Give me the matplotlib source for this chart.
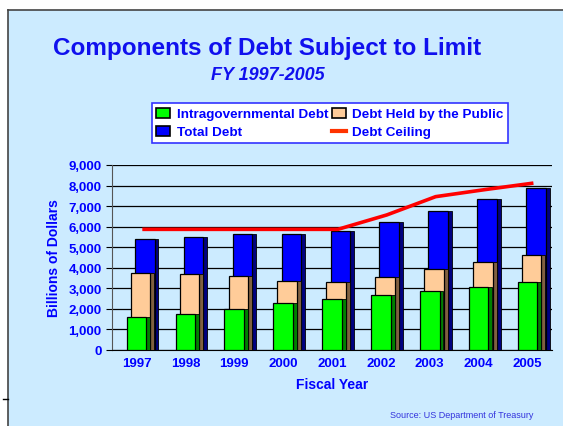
import numpy as np
import matplotlib.pyplot as plt
from matplotlib.patches import Rectangle
from matplotlib.lines import Line2D

years = ['1997', '1998', '1999', '2000', '2001', '2002', '2003', '2004', '2005']
intragov = [1600, 1760, 2010, 2270, 2460, 2690, 2850, 3070, 3330]
public = [2170, 1960, 1610, 1110, 860, 870, 1080, 1220, 1270]
total = [5390, 5500, 5650, 5650, 5790, 6210, 6760, 7360, 7900]
ceiling = [5870, 5870, 5870, 5870, 5870, 6570, 7460, 7800, 8120]

bg = '#CCEBFF'
txt = '#0000FF'
plt.rcParams['font.family'] = ['Liberation Sans', 'DejaVu Sans']

fig = plt.figure(figsize=(5.63, 4.27), dpi=100)
fig.patch.set_facecolor('white')
# slide panel
fig.add_artist(Rectangle((8/563, 0), 1, 1 - 11/427, transform=fig.transFigure,
                         facecolor=bg, edgecolor='none', zorder=0))
fig.add_artist(Line2D([8/563, 8/563], [0, 1 - 11/427], transform=fig.transFigure,
                      color='#444444', lw=1.2))
fig.add_artist(Line2D([8/563, 1], [1 - 11/427, 1 - 11/427], transform=fig.transFigure,
                      color='#444444', lw=1.2))
fig.add_artist(Line2D([3/563, 8/563], [27/427, 27/427], transform=fig.transFigure,
                      color='black', lw=1))

ax = fig.add_axes([112/563, 76/427, 440/563, 185/427])
ax.set_facecolor(bg)

x = np.arange(len(years))
w = 0.40
d = 0.08
off = 0.085

def bar3d(xs, heights, color, side):
    ax.bar(xs + w/2 + d/2, heights, width=d, color=side, edgecolor='black', lw=0.6, zorder=3)
    ax.bar(xs, heights, width=w, color=color, edgecolor='black', lw=0.9, zorder=3)

stack = np.array(intragov) + np.array(public)
bar3d(x + 2*off, np.array(total), '#0000FF', '#000080')
bar3d(x + off, stack, '#FFCC99', '#806040')
bar3d(x, np.array(intragov), '#00FF00', '#008000')

ax.plot(x + 0.12, ceiling, color='#FF0000', lw=2.6, zorder=4, solid_capstyle='butt')

ax.set_xlim(-0.5, len(years) - 0.5)
ax.set_ylim(0, 9000)
ax.set_yticks(range(0, 9001, 1000))
ax.set_yticklabels([f'{v:,}' for v in range(0, 9001, 1000)])
ax.set_xticks(x)
ax.set_xticklabels(years)
ax.yaxis.grid(True, color='black', lw=0.9)
ax.set_axisbelow(True)
for s in ['top', 'right']:
    ax.spines[s].set_visible(False)
ax.spines['left'].set_color('#555555')
ax.spines['bottom'].set_color('black')
ax.tick_params(axis='x', length=0, pad=5, labelsize=9.5, labelcolor=txt)
ax.tick_params(axis='y', length=4, labelsize=9.5, labelcolor=txt)
for lab in ax.get_xticklabels() + ax.get_yticklabels():
    lab.set_fontweight('bold')
ax.set_xlabel('Fiscal Year', fontsize=10, fontweight='bold', color=txt, labelpad=6)
ax.set_ylabel('Billions of Dollars', fontsize=10, fontweight='bold', color=txt, labelpad=5)

fig.text(267/563, 1 - 49/427, 'Components of Debt Subject to Limit', ha='center', va='center',
         fontsize=17.5, fontweight='bold', color='#1010EE')
fig.text(268/563, 1 - 76/427, 'FY 1997-2005', ha='center', va='center',
         fontsize=13, fontweight='bold', style='italic', color='#1010EE')
fig.text(462/563, 1 - 416/427, 'Source: US Department of Treasury', ha='center', va='center',
         fontsize=6.5, color='#3333DD')

handles = [Rectangle((0, 0), 1, 1, facecolor='#00FF00', edgecolor='black', lw=1.2),
           Rectangle((0, 0), 1, 1, facecolor='#0000FF', edgecolor='black', lw=1.2),
           Rectangle((0, 0), 1, 1, facecolor='#FFCC99', edgecolor='black', lw=1.2),
           Line2D([], [], color='#FF3300', lw=3)]
labels = ['Intragovernmental Debt', 'Total Debt', 'Debt Held by the Public', 'Debt Ceiling']
leg = fig.legend(handles, labels, ncol=2, loc='center', bbox_to_anchor=(330/563, 1 - 124/427),
                 frameon=True, fancybox=False, edgecolor='#3333FF', facecolor='white',
                 framealpha=1, fontsize=9.7, handlelength=1.0, handleheight=0.75,
                 handletextpad=0.5, columnspacing=0.3, labelspacing=0.4, borderpad=0.35)
leg.get_frame().set_linewidth(1.2)
for t in leg.get_texts():
    t.set_color(txt)
    t.set_fontweight('bold')

fig.savefig('out.png', dpi=100)
